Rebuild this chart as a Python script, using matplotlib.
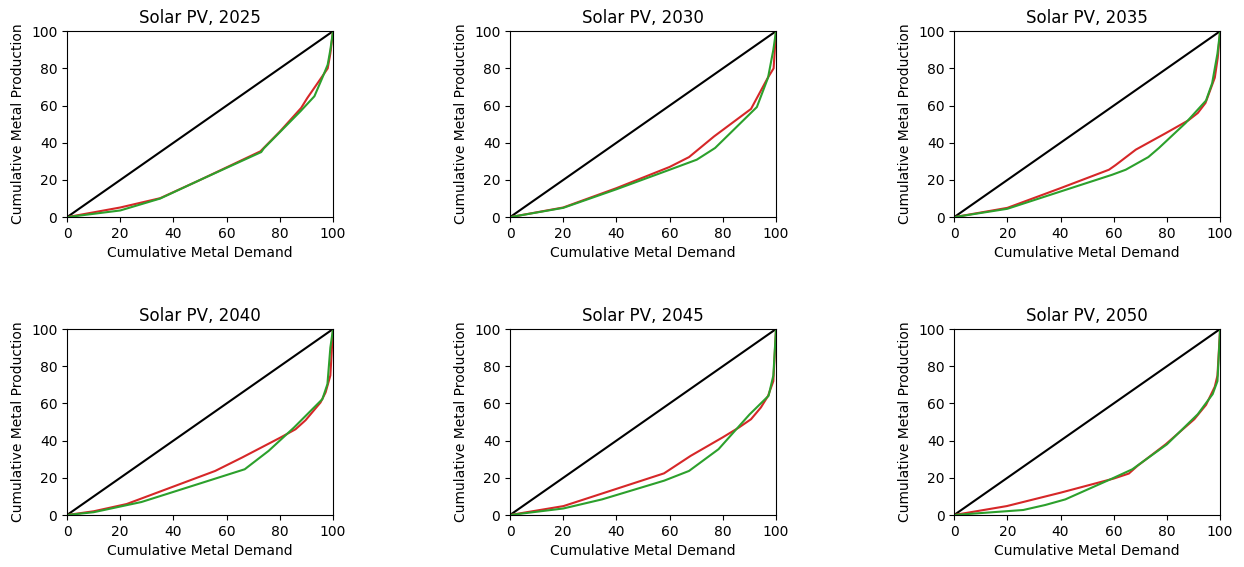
import matplotlib
matplotlib.use("Agg")
import matplotlib.pyplot as plt

# Lorenz-style curves for solar PV metal demand vs production
years = [2025, 2030, 2035, 2040, 2045, 2050]

red_x = {
    2025: [0, 20, 35, 50, 72.7, 80, 88, 90.3, 96, 98, 99, 100],
    2030: [0, 20, 40, 60, 67.3, 76.7, 90.6, 96.9, 99.1, 100],
    2035: [0, 20, 40, 58.2, 60.7, 68.3, 79.6, 88, 91.6, 94.5, 98, 99.1, 100],
    2040: [0, 10, 22.4, 55.7, 65.8, 80.3, 85.9, 89.7, 95.3, 97.2, 99, 100],
    2045: [0, 20.1, 57.9, 67.9, 79.9, 86, 90.6, 94.3, 97, 99, 100],
    2050: [0, 19.8, 40, 60, 65.7, 68.9, 79.6, 90.3, 94.7, 98, 99, 100],
}
red_y = {
    2025: [0, 5.2, 10.2, 20, 35.4, 46, 58.7, 64, 75.8, 80, 88, 100],
    2030: [0, 5.2, 15.6, 27, 32.3, 43.4, 58.2, 74.9, 80, 100],
    2035: [0, 5, 15.6, 25.5, 28, 36.3, 45.2, 52, 56, 61.4, 75, 85.6, 100],
    2040: [0, 2, 5.9, 23.7, 30.9, 41.7, 46.1, 51, 60.5, 65.9, 75, 100],
    2045: [0, 4.8, 22.4, 31.8, 41.7, 47, 51.5, 57.8, 64, 72, 100],
    2050: [0, 4.8, 12, 19.6, 22.3, 26.4, 38.1, 51.5, 59.2, 69, 75, 100],
}
green_x = {
    2025: [0, 20, 35, 50, 73, 74, 87.8, 93, 96, 98, 99, 100],
    2030: [0, 20, 40, 60, 70.2, 77.1, 92.8, 97, 99, 100],
    2035: [0, 20, 40, 59.4, 64.5, 73, 77, 87, 94.7, 97, 99, 100],
    2040: [0, 10, 28, 45, 66.8, 75.8, 85.3, 96, 97.9, 99, 100],
    2045: [0, 20, 34.6, 58, 67.3, 78.4, 90, 97.2, 99, 100],
    2050: [0, 26, 34.3, 41.8, 59.4, 67, 80, 91.6, 97.2, 99, 100],
}
green_y = {
    2025: [0, 3.6, 10, 20, 35, 37, 57, 65, 75, 82, 90, 100],
    2030: [0, 5, 15, 25.5, 30.9, 37.2, 59.2, 75, 90, 100],
    2035: [0, 4.5, 13.8, 22.8, 25.5, 32.3, 37.2, 50.6, 62.7, 72, 88, 100],
    2040: [0, 1.5, 7, 14.7, 24.6, 34.5, 47, 62.3, 70.4, 90, 100],
    2045: [0, 3.5, 8.4, 18.5, 23.7, 35.4, 54, 64.1, 75, 100],
    2050: [0, 2.7, 5.4, 8.4, 19.6, 24.6, 38, 54.2, 65, 72, 100],
}
ticks = [0, 20, 40, 60, 80, 100]

fig = plt.figure(figsize=(12.44, 5.67), dpi=100)
lefts = [0.0539, 0.41, 0.767]
bottoms = [0.617, 0.0917]
w, h = 0.2138, 0.328

for i, yr in enumerate(years):
    ax = fig.add_axes([lefts[i % 3], bottoms[i // 3], w, h])
    ax.plot([0, 100], [0, 100], color="black")
    ax.plot(red_x[yr], red_y[yr], color="tab:red")
    ax.plot(green_x[yr], green_y[yr], color="tab:green")
    ax.set_xlim(0, 100)
    ax.set_ylim(0, 100)
    ax.set_xticks(ticks)
    ax.set_yticks(ticks)
    ax.set_title(f"Solar PV, {yr}")
    ax.set_xlabel("Cumulative Metal Demand")
    ax.set_ylabel("Cumulative Metal Production")

fig.savefig("out.png", dpi=100)
